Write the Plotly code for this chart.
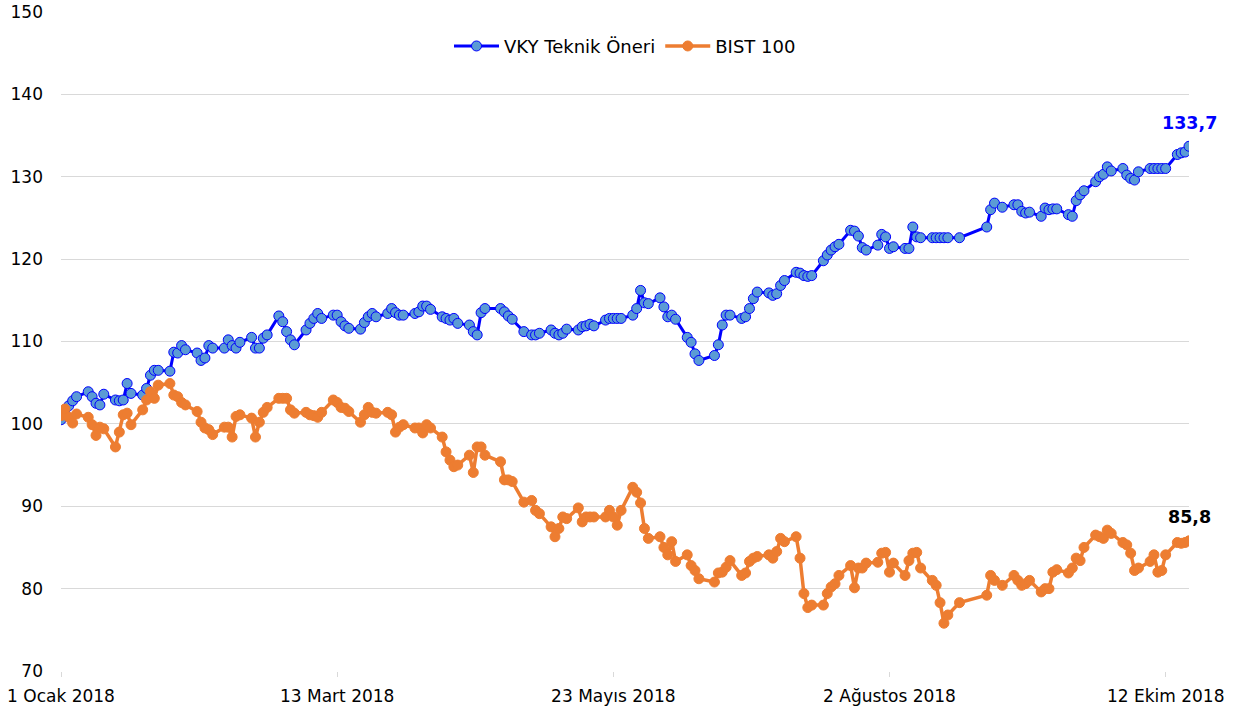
import pandas as pd
import plotly.graph_objects as go

start_date = "2018-01-01"
end_date = "2018-10-18"
market_holidays = ["2018-04-23", "2018-05-01", "2018-06-15", "2018-08-21",
                   "2018-08-22", "2018-08-23", "2018-08-24", "2018-08-30"]

vky = [
    100.5, 101.7, 102.2, 102.8, 103.3,
    103.9, 103.3, 102.5, 102.3, 103.6,
    102.9, 102.8, 102.9, 104.9, 103.7,
    103.5, 104.3, 105.9, 106.5, 106.5,
    106.4, 108.7, 108.6, 109.5, 109.0,
    108.6, 107.7, 108.0, 109.5, 109.2,
    109.2, 110.2, 109.5, 109.2, 109.9,
    110.5, 109.2, 109.2, 110.4, 110.8,
    113.1, 112.4, 111.2, 110.2, 109.6,
    111.4, 112.2, 112.8, 113.4, 112.8,
    113.2, 113.2, 112.4, 111.9, 111.6,
    111.5, 112.3, 113.0, 113.4, 113.0,
    113.4, 114.0, 113.5, 113.2, 113.2,
    113.4, 113.6, 114.3, 114.3, 113.9,
    113.0, 112.8, 112.6, 112.8, 112.2,
    112.0, 111.2, 110.8, 113.5, 114.0,
    114.0, 113.6, 113.1, 112.7,
    111.2, 110.8, 110.8, 111.0,
    111.4, 111.0, 110.8, 111.0, 111.5,
    111.4, 111.8, 111.9, 112.1, 111.9,
    112.6, 112.8, 112.8, 112.8, 112.8,
    113.2, 114.0, 116.2, 114.7, 114.6,
    115.3, 114.2, 113.0, 113.2, 112.7,
    110.5, 109.9, 108.5, 107.7,
    108.3, 109.6, 112.0, 113.2, 113.2,
    112.8, 113.0, 114.0, 115.2, 116.0,
    115.9, 115.6, 115.8, 116.8, 117.4,
    118.4, 118.3, 118.0, 117.9, 118.0,
    119.8, 120.5, 121.1, 121.5, 121.8,
    123.5, 123.4, 122.8, 121.4, 121.1,
    121.7, 123.0, 122.7, 121.3, 121.5,
    121.3, 121.3, 123.9, 122.7, 122.6,
    122.6, 122.6, 122.6, 122.6, 122.6,
    122.6,
    123.9, 126.0, 126.8, 126.3,
    126.6, 126.6, 125.8, 125.6, 125.7,
    125.2, 126.2, 126.0, 126.1, 126.1,
    125.4, 125.2, 127.1, 127.8, 128.3,
    129.4, 130.0, 130.3, 131.2, 130.7,
    131.0, 130.2, 129.8, 129.6, 130.6,
    131.0, 131.0, 131.0, 131.0, 131.0,
    132.7, 132.9, 133.0, 133.7,
]

bist = [
    101.0, 101.8, 100.8, 100.1, 101.2,
    100.8, 99.9, 98.6, 99.6, 99.4,
    97.2, 99.0, 101.1, 101.3, 99.9,
    101.7, 102.9, 103.9, 103.1, 104.7,
    104.9, 103.5, 103.3, 102.6, 102.3,
    101.5, 100.2, 99.5, 99.3, 98.7,
    99.6, 99.6, 98.4, 100.9, 101.1,
    100.7, 98.4, 100.2, 101.4, 102.0,
    103.1, 103.1, 103.1, 101.7, 101.3,
    101.4, 101.1, 101.0, 100.8, 101.4,
    102.9, 102.6, 102.0, 101.9, 101.5,
    100.2, 101.1, 102.0, 101.4, 101.3,
    101.4, 101.1, 99.0, 99.6, 99.9,
    99.5, 99.5, 98.9, 99.9, 99.5,
    98.4, 96.6, 95.6, 94.8, 95.0,
    96.2, 94.1, 97.2, 97.2, 96.2,
    95.4, 93.2, 93.2, 93.0,
    90.5, 90.7, 89.5, 89.1,
    87.5, 86.3, 87.3, 88.7, 88.5,
    89.8, 88.1, 88.7, 88.7, 88.7,
    88.7, 89.5, 88.7, 87.7, 89.5,
    92.3, 91.7, 90.4, 87.3, 86.1,
    86.3, 85.0, 84.1, 85.7, 83.3,
    84.1, 82.8, 82.2, 81.2,
    80.8, 81.9, 82.0, 82.6, 83.4,
    81.6, 81.9, 83.3, 83.7, 83.9,
    84.1, 83.7, 84.5, 86.1, 85.7,
    86.3, 83.7, 79.4, 77.7, 78.0,
    78.0, 79.4, 80.2, 80.6, 81.6,
    82.8, 80.1, 82.5, 82.5, 83.1,
    83.2, 84.3, 84.4, 82.0, 83.1,
    81.6, 83.4, 84.3, 84.4, 82.5,
    81.0, 80.4, 78.3, 75.8, 76.8,
    78.3,
    79.2, 81.6, 81.0, 80.4,
    81.6, 81.0, 80.4, 80.6, 81.0,
    79.6, 80.0, 80.0, 82.0, 82.3,
    81.9, 82.5, 83.7, 83.4, 85.0,
    86.5, 86.3, 86.1, 87.1, 86.7,
    85.6, 85.3, 84.3, 82.2, 82.5,
    83.3, 84.1, 82.0, 82.2, 84.1,
    85.6, 85.5, 85.6, 85.8,
]

tick_dates = ["2018-01-01", "2018-03-13", "2018-05-23", "2018-08-02", "2018-10-12"]
tick_labels = ["1 Ocak 2018", "13 Mart 2018", "23 Mayıs 2018", "2 Ağustos 2018", "12 Ekim 2018"]
y_ticks = [70, 80, 90, 100, 110, 120, 130, 140, 150]

dates = pd.bdate_range(start_date, end_date, freq="C", holidays=market_holidays)
n = min(len(dates), len(vky), len(bist))
dates = dates[:n]

FONT = "DejaVu Sans, Verdana, sans-serif"

fig = go.Figure()
fig.add_trace(go.Scatter(
    x=dates, y=vky[:n], name="VKY Teknik Öneri", mode="lines+markers",
    line=dict(color="#0000FF", width=3),
    marker=dict(size=10, color="#5B9BD5", line=dict(color="#0000FF", width=1)),
))
fig.add_trace(go.Scatter(
    x=dates, y=bist[:n], name="BIST 100", mode="lines+markers",
    line=dict(color="#ED7D31", width=3.5),
    marker=dict(size=10, color="#ED7D31", line=dict(color="#ED7D31", width=1)),
))

fig.add_annotation(x=dates[-1], y=vky[n - 1], text="<b>133,7</b>", showarrow=False,
                   yshift=23, font=dict(family=FONT, size=17.5, color="#0000FF"))
fig.add_annotation(x=dates[-1], y=bist[n - 1], text="<b>85,8</b>", showarrow=False,
                   yshift=24, font=dict(family=FONT, size=17.5, color="#000000"))

fig.update_layout(
    template="none",
    width=1244, height=715,
    margin=dict(l=61, r=55, t=12, b=44, pad=0, autoexpand=False),
    paper_bgcolor="white", plot_bgcolor="white",
    font=dict(family=FONT, size=17, color="#000000"),
    showlegend=True,
    legend=dict(orientation="h", x=0.5, xanchor="center", y=0.948, yanchor="middle",
                font=dict(family=FONT, size=18, color="#000000"),
                itemwidth=45, tracegroupgap=0,
                bgcolor="rgba(0,0,0,0)", borderwidth=0),
    xaxis=dict(
        type="date", range=[start_date, end_date], automargin=False,
        tickvals=tick_dates, ticktext=tick_labels,
        showgrid=False, zeroline=False,
        showline=False, ticks="outside", ticklen=5, tickcolor="#d9d9d9", tickwidth=1,
        ticklabelstandoff=5, ticklabeloverflow="allow",
        tickfont=dict(family=FONT, size=17, color="#000000"),
    ),
    yaxis=dict(
        range=[70, 150], tickvals=y_ticks, automargin=False,
        showgrid=True, gridcolor="#d9d9d9", gridwidth=1.3,
        zeroline=False, showline=False,
        ticks="", ticklabelstandoff=17,
        ticklabeloverflow="allow",
        tickfont=dict(family=FONT, size=17, color="#000000"),
    ),
)

fig.write_html("out.html", config={"displayModeBar": False},
               post_script="document.body.style.margin='0px';document.body.style.overflow='hidden';")
